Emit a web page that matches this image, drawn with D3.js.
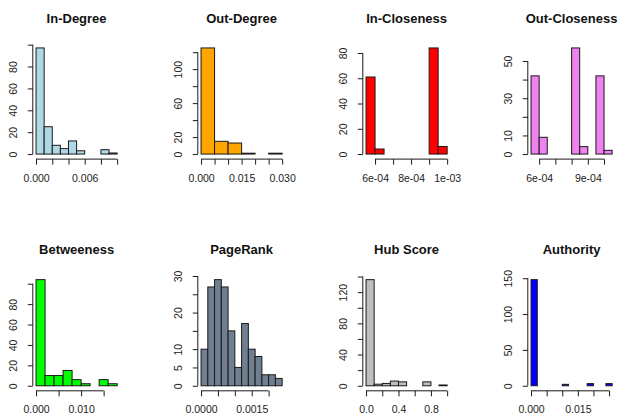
<!DOCTYPE html>
<html>
<head>
<meta charset="utf-8">
<script src="https://cdn.jsdelivr.net/npm/d3@7"></script>
<style>
body { margin: 0; background: #fff; }
text { font-family: "Liberation Sans", Arial, sans-serif; }
</style>
</head>
<body>
<svg id="chart" width="617" height="414"></svg>
<script>
// titles + fill colours (R colour names)
const titles = ["In-Degree", "Out-Degree", "In-Closeness", "Out-Closeness",
                "Betweeness", "PageRank", "Hub Score", "Authority"];
const fills = ["#ADD8E6", "#FFA500", "#FF0000", "#EE82EE",
               "#00FF00", "#708090", "#BEBEBE", "#0000FF"];

// histogram counts, equal width bins over [lo, hi]
const inDegree = [97, 25, 8, 5, 12, 3, 0, 0, 4, 1];
const outDegree = [125, 15, 13, 1, 0, 1];
const inCloseness = [61, 4, 0, 0, 0, 0, 0, 84, 6];
const outCloseness = [42, 9, 0, 0, 0, 57, 4, 0, 42, 2];
const betweeness = [104, 10, 10, 15, 6, 2, 0, 6, 2];
const pageRank = [10, 27, 29, 27, 15, 5, 17, 10, 8, 3, 3, 2];
const hubScore = [136, 2, 3, 6, 5, 0, 0, 5, 0, 1];
const authority = [148, 0, 0, 0, 0, 2, 0, 0, 0, 3, 0, 0, 3];
const counts = [inDegree, outDegree, inCloseness, outCloseness,
                betweeness, pageRank, hubScore, authority];

const binRanges = [[0, 0.010], [0, 0.030], [5.5e-4, 10e-4], [5.5e-4, 10.5e-4],
                   [0, 0.018], [0, 0.0024], [0, 1.0], [0, 0.026]];

// x ticks and their labels ("" = tick only, label dropped like R does)
const xTicks = [
  [0, 0.002, 0.004, 0.006, 0.008, 0.010],
  [0, 0.005, 0.010, 0.015, 0.020, 0.025, 0.030],
  [6e-4, 7e-4, 8e-4, 9e-4, 10e-4],
  [6e-4, 7e-4, 8e-4, 9e-4, 10e-4],
  [0, 0.005, 0.010, 0.015],
  [0, 0.0005, 0.0010, 0.0015, 0.0020],
  [0, 0.2, 0.4, 0.6, 0.8, 1.0],
  [0, 0.005, 0.010, 0.015, 0.020, 0.025]
];
const xLabels = [
  ["0.000", "", "", "0.006", "", ""],
  ["0.000", "", "", "0.015", "", "", "0.030"],
  ["6e-04", "", "8e-04", "", "1e-03"],
  ["6e-04", "", "", "9e-04", ""],
  ["0.000", "", "0.010", ""],
  ["0.0000", "", "", "0.0015", ""],
  ["0.0", "", "0.4", "", "0.8", ""],
  ["0.000", "", "", "0.015", "", ""]
];
const yTicks = [
  [0, 20, 40, 60, 80, 100],
  [0, 20, 40, 60, 80, 100, 120],
  [0, 20, 40, 60, 80],
  [0, 10, 20, 30, 40, 50],
  [0, 20, 40, 60, 80, 100],
  [0, 5, 10, 15, 20, 25, 30],
  [0, 20, 40, 60, 80, 100, 120, 140],
  [0, 50, 100, 150]
];
const yLabels = [
  ["0", "20", "40", "60", "80", ""],
  ["0", "20", "", "60", "", "100", ""],
  ["0", "20", "40", "60", "80"],
  ["0", "10", "", "30", "", "50"],
  ["0", "20", "40", "60", "80", ""],
  ["0", "5", "10", "", "20", "", "30"],
  ["0", "", "40", "", "80", "", "120", ""],
  ["0", "50", "100", "150"]
];

// layout (mfrow 2x4 look)
const colStep = 165, rowStep = 231.7;
const left0 = 32.8, top0 = 43.7;
const plotW = 87.6, plotH = 114.6;

const svg = d3.select("#chart");

counts.forEach((cnt, i) => {
  const col = i % 4, row = Math.floor(i / 4);
  const x0 = left0 + col * colStep, y0 = top0 + row * rowStep;
  const [lo, hi] = binRanges[i];
  const span = hi - lo;
  const maxC = d3.max(cnt);

  const x = d3.scaleLinear().domain([lo - 0.04 * span, hi + 0.04 * span]).range([x0, x0 + plotW]);
  const y = d3.scaleLinear().domain([-0.04 * maxC, 1.04 * maxC]).range([y0 + plotH, y0]);

  const bw = span / cnt.length;
  const bins = cnt.map((c, k) => ({ a: lo + k * bw, b: lo + (k + 1) * bw, c: c }));

  svg.append("g").selectAll("rect")
    .data(bins)
    .enter()
    .append("rect")
    .attr("x", d => x(d.a))
    .attr("width", d => x(d.b) - x(d.a))
    .attr("y", d => y(d.c))
    .attr("height", d => y(0) - y(d.c))
    .attr("fill", fills[i])
    .attr("stroke", "#1a1a1a")
    .attr("stroke-width", 1);

  // x axis
  const xt = xTicks[i];
  const gx = svg.append("g")
    .attr("transform", `translate(0,${y0 + plotH + 0.8})`)
    .call(d3.axisBottom(x).tickValues(xt).tickSize(5.5).tickSizeOuter(0)
      .tickFormat((d, k) => xLabels[i][k]));
  gx.select(".domain").attr("d", `M${x(xt[0])},0H${x(xt[xt.length - 1])}`);
  gx.selectAll("text").attr("y", 0).attr("dy", 0)
    .attr("transform", "translate(0,22.5)")
    .style("font-size", "10.5px").attr("fill", "#222");

  // y axis
  const yt = yTicks[i];
  const gy = svg.append("g")
    .attr("transform", `translate(${x0},0)`)
    .call(d3.axisLeft(y).tickValues(yt).tickSize(5).tickSizeOuter(0)
      .tickFormat((d, k) => yLabels[i][k]));
  gy.select(".domain").attr("d", `M0,${y(yt[0])}V${y(yt[yt.length - 1])}`);
  gy.selectAll("text")
    .attr("x", 0).attr("y", -16).attr("dy", 0)
    .attr("transform", "rotate(-90)")
    .attr("text-anchor", "middle")
    .style("font-size", "10.5px").attr("fill", "#222");

  gx.selectAll("line, path").attr("stroke", "#1a1a1a");
  gy.selectAll("line, path").attr("stroke", "#1a1a1a");

  // title
  svg.append("text")
    .attr("x", x0 + plotW / 2)
    .attr("y", y0 - 21)
    .attr("text-anchor", "middle")
    .style("font-size", "13px")
    .style("font-weight", "bold")
    .attr("fill", "#111")
    .text(titles[i]);
});
</script>
</body>
</html>
